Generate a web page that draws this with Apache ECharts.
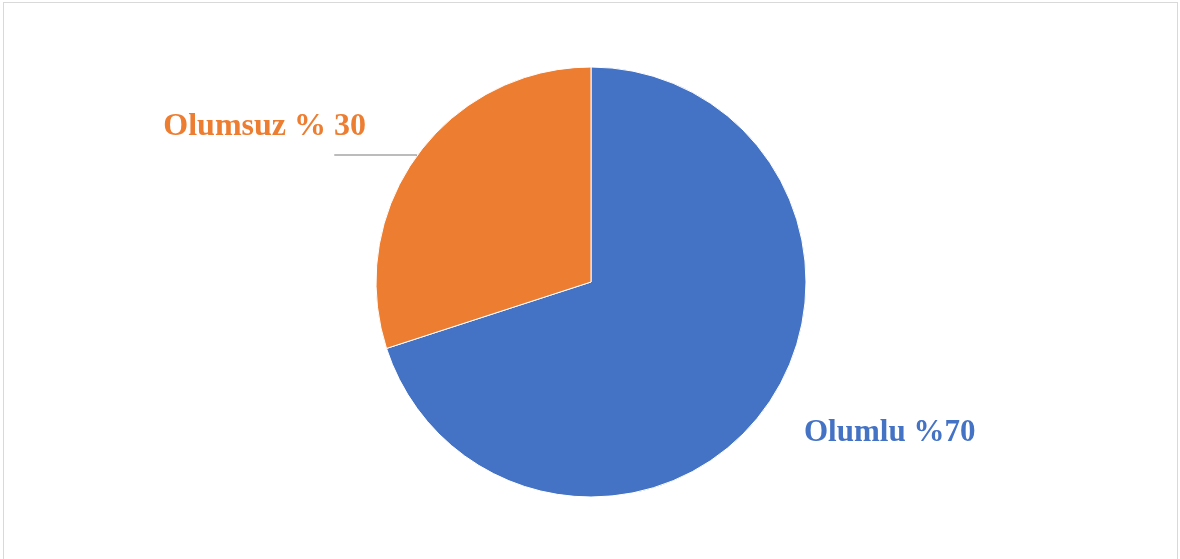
<!DOCTYPE html>
<html>
<head>
<meta charset="utf-8">
<script src="https://cdn.jsdelivr.net/npm/echarts@6/dist/echarts.min.js"></script>
<style>
html,body{margin:0;padding:0;background:#fff;overflow:hidden;}
#frame{position:absolute;left:3px;top:2px;width:1175px;height:600px;border:1px solid #d9d9d9;box-sizing:border-box;}
#chart{position:absolute;left:0;top:0;width:1180px;height:559px;}
</style>
</head>
<body>
<div id="frame"></div>
<div id="chart"></div>
<script>
const categories = ['Olumlu', 'Olumsuz'];
const values = [70, 30];
const labelTexts = ['Olumlu %70', 'Olumsuz % 30'];
const colors = ['#4472C4', '#ED7D31'];

const chart = echarts.init(document.getElementById('chart'));
const data = categories.map((c, i) => ({
  name: c,
  value: values[i],
  itemStyle: { color: colors[i] },
  label: { color: colors[i], fontSize: i === 0 ? 31 : 32 },
  labelLine: { show: i === 1 }
}));

chart.setOption({
  backgroundColor: 'transparent',
  animation: false,
  series: [{
    type: 'pie',
    center: [591, 282],
    radius: [0, 215],
    startAngle: 90,
    clockwise: true,
    data: data,
    itemStyle: { borderColor: '#ffffff', borderWidth: 1 },
    label: {
      show: true,
      position: 'outside',
      formatter: p => labelTexts[p.dataIndex],
      fontFamily: '"Liberation Serif", "Times New Roman", serif',
      fontWeight: 'bold',
      fontSize: 32
    },
    labelLine: {
      show: true,
      length: 1,
      length2: 82,
      smooth: false,
      lineStyle: { color: '#a6a6a6', width: 1.5 }
    },
    labelLayout: function (p) {
      if (p.dataIndex === 0) {
        return { x: 804, y: 433, align: 'left', verticalAlign: 'middle' };
      }
      return { x: 366, y: 127, align: 'right', verticalAlign: 'middle', labelLinePoints: p.labelLinePoints };
    }
  }]
});
</script>
</body>
</html>
